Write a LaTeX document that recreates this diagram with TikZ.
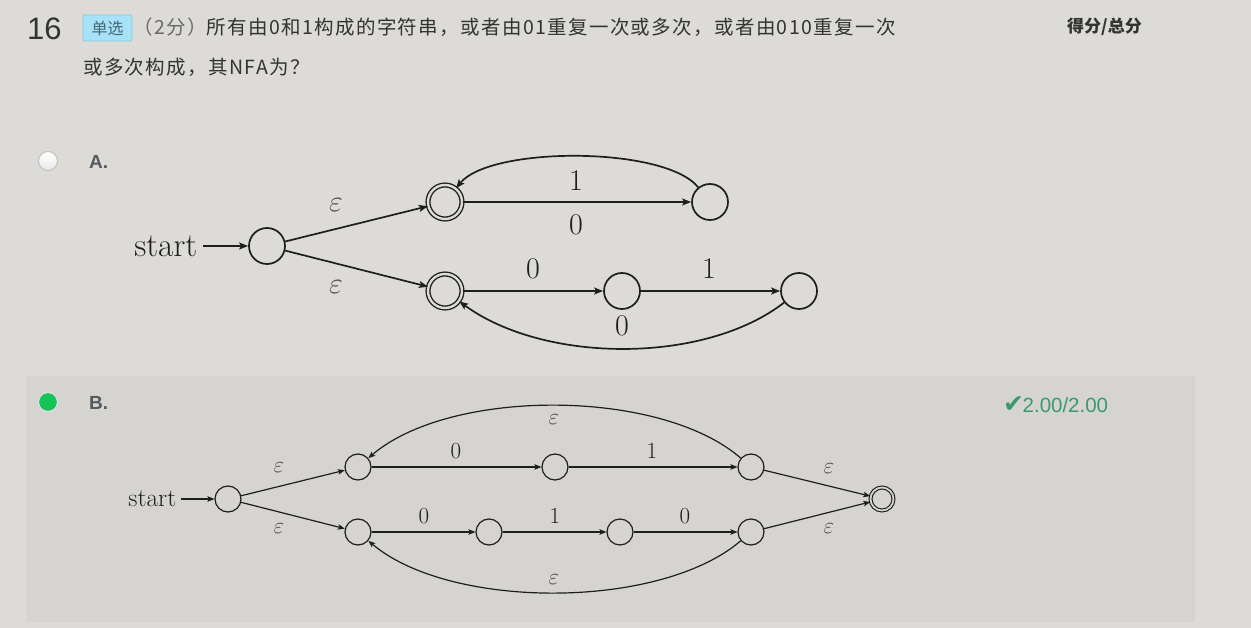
\RequirePackage{fix-cm}
\documentclass[tikz,border=0pt]{standalone}
\usepackage{fontspec}
\newfontfamily\cjk[LetterSpace=7]{Noto Sans CJK SC}
\newfontfamily\cjkplain{Noto Sans CJK SC}
\newfontfamily\lsans{Liberation Sans}
\newfontfamily\dejavu{DejaVu Sans}
\usetikzlibrary{arrows.meta}
\definecolor{bgc}{HTML}{DCDBD7}
\definecolor{panelc}{HTML}{D5D4D0}
\definecolor{lc}{HTML}{1E1E1E}
\definecolor{txt}{HTML}{333333}
\definecolor{gtxt}{HTML}{6A6A6A}
\definecolor{optc}{HTML}{555A5E}
\definecolor{tagc}{HTML}{A6E2F8}
\definecolor{tagb}{HTML}{8CCBE0}
\definecolor{tagt}{HTML}{4A6676}
\definecolor{okc}{HTML}{3A9A6E}
\definecolor{radiog}{HTML}{14C458}
\definecolor{epsc}{HTML}{4A4A4A}
\begin{document}
\begin{tikzpicture}[x=1pt,y=-1pt,
  stA/.style={circle,draw=lc,line width=1.7,minimum size=36,inner sep=0},
  accA/.style={circle,draw=lc,double=bgc,double distance=2.4,line width=1.35,minimum size=34,inner sep=0},
  arA/.style={draw=lc,line width=1.7,-{Stealth[length=9pt,width=7pt,inset=2pt]}},
  labA/.style={inner sep=0,text=lc,font=\fontsize{30}{36}\selectfont},
  epsA/.style={inner sep=0,text=epsc,font=\fontsize{30}{36}\selectfont},
  stB/.style={circle,draw=lc,line width=1.2,minimum size=26,inner sep=0},
  accB/.style={circle,draw=lc,double=panelc,double distance=1.8,line width=1.1,minimum size=23,inner sep=0},
  arB/.style={draw=lc,line width=1.2,-{Stealth[length=7pt,width=5.5pt,inset=1.6pt]}},
  labB/.style={inner sep=0,text=lc,font=\fontsize{23}{28}\selectfont},
  epsB/.style={inner sep=0,text=epsc,font=\fontsize{23}{28}\selectfont},
  hdr/.style={inner sep=0,anchor=base west,text=txt,font=\cjk\fontsize{19.5}{23}\selectfont},
  optlab/.style={inner sep=0,anchor=base west,text=optc,font=\lsans\bfseries\fontsize{19}{22}\selectfont}
]
\useasboundingbox (0,0) rectangle (1251,628);
\fill[bgc] (0,0) rectangle (1251,628);
\fill[panelc] (26,376) rectangle (1195,622);

% header
\node[inner sep=0,anchor=base west,text=txt,font=\lsans\fontsize{31}{36}\selectfont] (num) at (27,40) {16};
\draw[fill=tagc,draw=tagb,line width=0.8,rounded corners=1.5pt] (83,15) rectangle (132,41);
\node[inner sep=0,text=tagt,font=\cjkplain\fontsize{16}{19}\selectfont] (tag) at (107.5,28) {单选};
\node[hdr] (q1) at (133,35) {{\color{gtxt}（2分）}所有由0和1构成的字符串，或者由01重复一次或多次，或者由010重复一次};
\node[hdr] (q2) at (83,75) {或多次构成，其NFA为？};
\node[inner sep=0,anchor=base west,text=txt,font=\cjkplain\bfseries\fontsize{17}{20}\selectfont] (score) at (1067,33) {得分/总分};

% radio buttons
\shade[top color=white,bottom color=white!82!gray] (48,161) circle (9.5pt);
\draw[draw=white!50!gray,line width=1] (48,161) circle (9.5pt);
\node[optlab] (optA) at (89,168.5) {A.};
\fill[radiog] (48,402) circle (9pt);
\draw[draw=white!75!gray,line width=0.9] (48,402) circle (9.5pt);
\node[optlab] (optB) at (89,409.5) {B.};
\node[inner sep=0,anchor=base west,text=okc,font=\lsans\fontsize{20.5}{24}\selectfont] (ok) at (1003,412) {{\dejavu\fontsize{25}{26}\selectfont ✔}\kern-1.5pt2.00/2.00};

% ---------- option A ----------
\node[inner sep=5.5pt,anchor=east,text=lc,font=\fontsize{33.5}{40}\selectfont] (startA) at (203,246) {start};
\node[stA] (q0) at (267,246) {};
\node[accA] (a1) at (445,202) {};
\node[stA] (t1) at (710,202) {};
\node[accA] (a2) at (445,291) {};
\node[stA] (m2) at (622,291) {};
\node[stA] (r2) at (799,291) {};
\draw[arA] (startA) -- (q0);
\draw[arA] (q0) -- (a1);
\draw[arA] (q0) -- (a2);
\draw[arA] (a1) -- (t1);
\draw[arA] (t1) .. controls (665,146) and (490,146) .. (a1);
\draw[arA] (a2) -- (m2);
\draw[arA] (m2) -- (r2);
\draw[arA] (r2) .. controls (705,364) and (545,364) .. (a2);
\node[epsA] (eA1) at (336,205) {$\varepsilon$};
\node[epsA] (eA2) at (336,287) {$\varepsilon$};
\node[labA] (lA1) at (576,225) {0};
\node[labA] (lA2) at (576,181) {1};
\node[labA] (lA3) at (533,269) {0};
\node[labA] (lA4) at (709,269) {1};
\node[labA] (lA5) at (622,326) {0};

% ---------- option B ----------
\node[inner sep=4.5pt,anchor=east,text=lc,font=\fontsize{25.5}{30}\selectfont] (startB) at (181,499) {start};
\node[stB] (s0) at (228,499) {};
\node[stB] (u1) at (358,467) {};
\node[stB] (u2) at (555,467) {};
\node[stB] (u3) at (751,467) {};
\node[stB] (d1) at (358,532) {};
\node[stB] (d2) at (489,532) {};
\node[stB] (d3) at (620,532) {};
\node[stB] (d4) at (751,532) {};
\node[accB] (f) at (882,499) {};
\draw[arB] (startB) -- (s0);
\draw[arB] (s0) -- (u1);
\draw[arB] (s0) -- (d1);
\draw[arB] (u1) -- (u2);
\draw[arB] (u2) -- (u3);
\draw[arB] (u3) .. controls (660,388) and (450,388) .. (u1);
\draw[arB] (d1) -- (d2);
\draw[arB] (d2) -- (d3);
\draw[arB] (d3) -- (d4);
\draw[arB] (d4) .. controls (660,610) and (450,610) .. (d1);
\draw[arB] (u3) -- (f);
\draw[arB] (d4) -- (f);
\node[epsB] (eB1) at (279,468) {$\varepsilon$};
\node[epsB] (eB2) at (279,529) {$\varepsilon$};
\node[epsB] (eB3) at (829,469) {$\varepsilon$};
\node[epsB] (eB4) at (829,529) {$\varepsilon$};
\node[epsB] (eB5) at (554,420) {$\varepsilon$};
\node[epsB] (eB6) at (554,580) {$\varepsilon$};
\node[labB] (lB1) at (456,451) {0};
\node[labB] (lB2) at (652,451) {1};
\node[labB] (lB3) at (424,516) {0};
\node[labB] (lB4) at (555,516) {1};
\node[labB] (lB5) at (685,516) {0};
\end{tikzpicture}
\end{document}
